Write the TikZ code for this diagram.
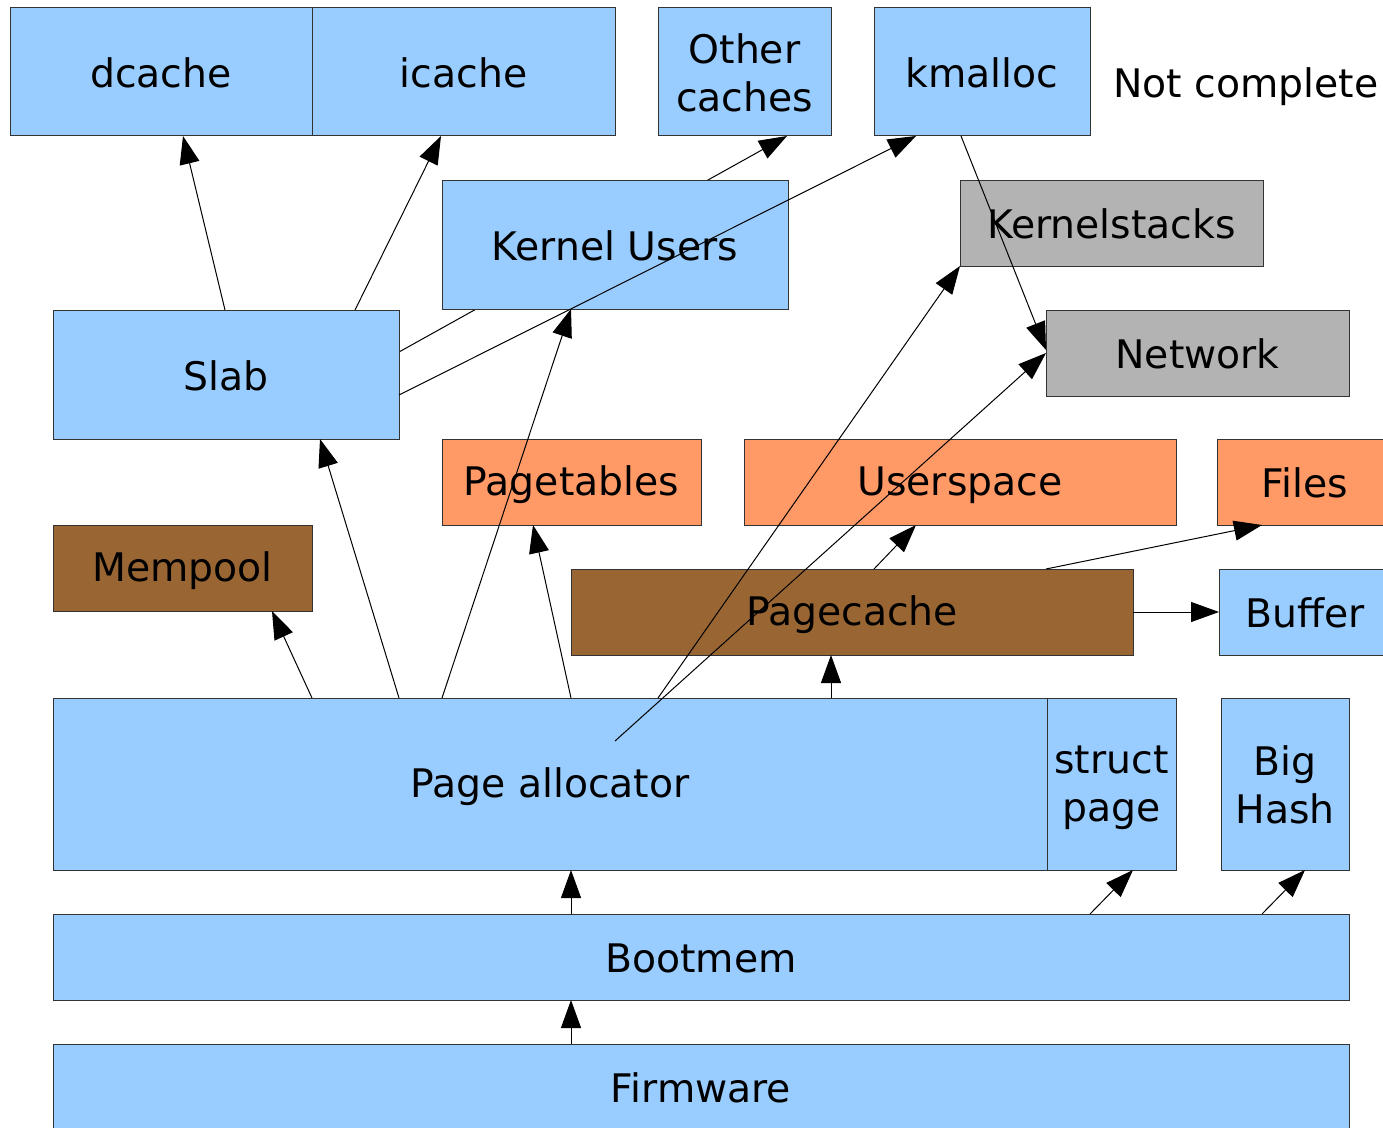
\documentclass[tikz,border=0pt]{standalone}
\usepackage{fontspec}
\setmainfont{DejaVu Sans}
\usetikzlibrary{arrows.meta}
\newdimen\px \px=0.75pt
\definecolor{cblue}{HTML}{99CCFF}
\definecolor{cgray}{HTML}{B3B3B3}
\definecolor{corange}{HTML}{FF9966}
\definecolor{cbrown}{HTML}{996633}
\pgfdeclarelayer{bg}
\pgfsetlayers{bg,main}
\newcommand\lst{\rule[-2.5pt]{0pt}{28.5pt}}
\newcommand\mkbox[7]{%
  \node[box,#6,minimum width={(#4-#2)*\px},minimum height={(#5-#3)*\px}] (#1) at ({(#2+#4)/2},{(#3+#5)/2}) {#7};}
\begin{document}
\begin{tikzpicture}[x=0.75pt,y=-0.75pt,
  box/.style={draw=black!80,line width=0.75pt,inner sep=0pt,outer sep=0pt,align=center,
    font=\fontsize{29.5}{36}\selectfont},
  blue/.style={fill=cblue},
  grey/.style={fill=cgray},
  orange/.style={fill=corange},
  brown/.style={fill=cbrown},
  arr/.style={-{Triangle[length=21pt,width=15pt]},line width=0.75pt,black}]
\useasboundingbox (0,0) rectangle (1383,1127);
\mkbox{dcache}{10}{8}{312}{136}{blue}{\lst dcache}
\mkbox{icache}{312}{8}{615}{136}{blue}{\lst icache}
\mkbox{other}{658}{8}{831}{136}{blue}{\lst Other\\\lst caches}
\mkbox{kmalloc}{874}{8}{1090}{136}{blue}{\lst kmalloc}
\node[font=\fontsize{29.5}{36}\selectfont,inner sep=0pt] (nc) at (1246,84) {\lst Not complete};
\mkbox{kusers}{442}{180}{788}{309}{blue}{\lst Kernel Users}
\mkbox{kstacks}{960}{180}{1263}{266}{grey}{\lst Kernelstacks}
\mkbox{network}{1046}{310}{1349}{396}{grey}{\lst Network}
\mkbox{slab}{53}{310}{399}{439}{blue}{\lst Slab}
\mkbox{ptables}{442}{439}{701}{525}{orange}{\lst Pagetables}
\mkbox{uspace}{744}{439}{1176}{525}{orange}{\lst Userspace}
\mkbox{files}{1217}{439}{1393}{525}{orange}{\lst Files}
\mkbox{mempool}{53}{525}{312}{611}{brown}{\lst Mempool}
\mkbox{pcache}{571}{569}{1133}{655}{brown}{\lst Pagecache}
\mkbox{buffer}{1219}{569}{1391}{655}{blue}{\lst Buffer}
\mkbox{palloc}{53}{698}{1047}{870}{blue}{\lst Page allocator}
\mkbox{spage}{1047}{698}{1176}{870}{blue}{\lst struct\\\lst page}
\mkbox{bighash}{1221}{698}{1349}{870}{blue}{\lst Big\\\lst Hash}
\mkbox{bootmem}{53}{914}{1349}{1000}{blue}{\lst Bootmem}
\mkbox{firmware}{53}{1044}{1349}{1130}{blue}{\lst Firmware}
% connector hidden behind Kernel Users
\begin{pgfonlayer}{bg}
\draw[arr] ([yshift=22.5\px]slab.east) -- ([xshift=42.5\px]other.south);
\end{pgfonlayer}
\draw[arr] ([xshift=-1\px]slab.north) -- ([xshift=22\px]dcache.south);
\draw[arr] ([xshift=129\px]slab.north) -- ([xshift=-22.5\px]icache.south);
\draw[arr] ([yshift=-20.5\px]slab.east) -- ([xshift=-66\px]kmalloc.south);
\draw[arr] ([xshift=-21\px]kmalloc.south) -- ([yshift=3\px]network.west);
\draw[arr] ([xshift=-238\px]palloc.north) -- ([xshift=89.5\px]mempool.south);
\draw[arr] ([xshift=-151\px]palloc.north) -- ([xshift=94\px]slab.south);
\draw[arr] ([xshift=-108\px]palloc.north) -- ([xshift=-44\px]kusers.south);
\draw[arr] ([xshift=21\px]palloc.north) -- ([xshift=-38.5\px]ptables.south);
\draw[arr] ([xshift=108\px]palloc.north) -- (kstacks.south west);
\draw[arr] ([xshift=65\px,yshift=-43\px]palloc.north) -- (network.west);
\draw[arr] ([xshift=281\px]palloc.north) -- ([xshift=-21\px]pcache.south);
\draw[arr] ([xshift=22\px]pcache.north) -- ([xshift=-44\px]uspace.south);
\draw[arr] ([xshift=194\px]pcache.north) -- ([xshift=-43\px]files.south);
\draw[arr] (pcache.east) -- (buffer.west);
\draw[arr] ([xshift=-130\px]bootmem.north) -- ([xshift=21\px]palloc.south);
\draw[arr] ([xshift=389\px]bootmem.north) -- ([xshift=21.5\px]spage.south);
\draw[arr] ([xshift=561\px]bootmem.north) -- ([xshift=20\px]bighash.south);
\draw[arr] ([xshift=-130\px]firmware.north) -- ([xshift=-130\px]bootmem.south);
\end{tikzpicture}
\end{document}
